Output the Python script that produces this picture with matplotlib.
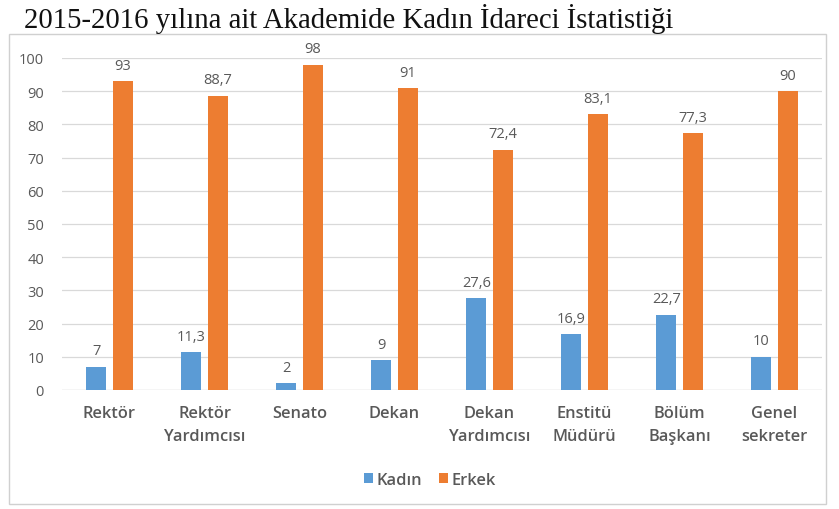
import matplotlib
matplotlib.use("Agg")
import matplotlib.pyplot as plt
from matplotlib.patches import Rectangle
import numpy as np

categories = ["Rektör", "Rektör\nYardımcısı", "Senato", "Dekan", "Dekan\nYardımcısı",
              "Enstitü\nMüdürü", "Bölüm\nBaşkanı", "Genel\nsekreter"]
kadin = [7, 11.3, 2, 9, 27.6, 16.9, 22.7, 10]
erkek = [93, 88.7, 98, 91, 72.4, 83.1, 77.3, 90]
yticks = [0, 10, 20, 30, 40, 50, 60, 70, 80, 90, 100]
title = "2015-2016 yılına ait Akademide Kadın İdareci İstatistiği"

BLUE = "#5B9BD5"
ORANGE = "#ED7D31"
GRAY = "#595959"

plt.rcParams['font.family'] = ['Open Sans', 'DejaVu Sans']

fig = plt.figure(figsize=(8.39, 5.10), dpi=100)
fig.patch.set_facecolor("white")

# chart border
fig.patches.append(Rectangle((9/839, 1-505/510), (826-9)/839, (505-35)/510,
                             transform=fig.transFigure, fill=False,
                             edgecolor="#D0D0D0", linewidth=1.0))

fig.text(24/839, 1-19/510, title, fontsize=20.7, family="Liberation Serif",
         color="#111111", ha="left", va="center")

ax = fig.add_axes([62/839, 1-391/510, (822-62)/839, (391-59)/510])
x = np.arange(len(categories))
w = 0.215
off = 0.14
b1 = ax.bar(x - off, kadin, w, color=BLUE, label="Kadın", zorder=3)
b2 = ax.bar(x + off, erkek, w, color=ORANGE, label="Erkek", zorder=3)

def fmt(v):
    s = f"{v:g}"
    return s.replace(".", ",")

for bars, vals in ((b1, kadin), (b2, erkek)):
    for r, v in zip(bars, vals):
        ax.annotate(fmt(v), (r.get_x() + r.get_width()/2, v), xytext=(0, 6),
                    textcoords="offset points", ha="center", va="bottom",
                    fontsize=10.5, color=GRAY)

ax.set_xlim(-0.5, len(categories) - 0.5)
ax.set_ylim(0, 100)
ax.set_yticks(yticks)
ax.set_yticklabels([str(t) for t in yticks], fontsize=10.5, color=GRAY)
ax.yaxis.grid(True, color="#D9D9D9", linewidth=0.9, zorder=0)
ax.set_xticks(x)
ax.set_xticklabels(categories, fontsize=11.8, color=GRAY, fontweight="semibold",
                   linespacing=1.6)
ax.tick_params(axis="both", length=0)
ax.tick_params(axis="x", pad=11)
ax.tick_params(axis="y", pad=13)
for s in ax.spines.values():
    s.set_visible(False)
ax.axhline(0, color="#D9D9D9", linewidth=0.9, zorder=2)

leg = fig.legend(handles=[b1, b2], labels=["Kadın", "Erkek"], loc="center",
                 bbox_to_anchor=(430/839, 1-481/510), ncol=2, frameon=False,
                 fontsize=11.8, handlelength=0.55, handleheight=0.55,
                 handletextpad=0.25, columnspacing=1.0)
for t in leg.get_texts():
    t.set_color(GRAY)
    t.set_fontweight("semibold")

fig.savefig("out.png", dpi=100, facecolor="white")
